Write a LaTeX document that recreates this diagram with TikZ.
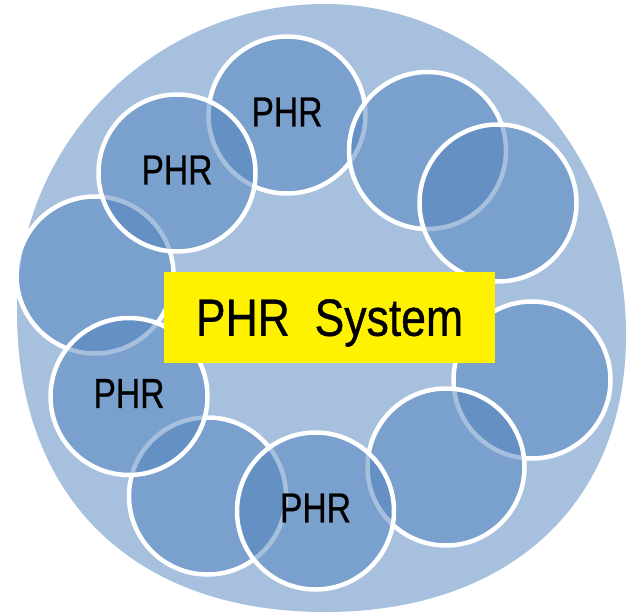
\documentclass[tikz,border=0pt]{standalone}
\usepackage{fontspec}
\newfontfamily\phrsmall[FakeStretch=0.8,FakeBold=0.7]{Liberation Sans}
\newfontfamily\phrbig[FakeStretch=0.85,FakeBold=0.7]{Liberation Sans}
\definecolor{phrblue}{HTML}{4F81BD}
\definecolor{ringbg}{HTML}{A7C0DE}
\begin{document}
\begin{tikzpicture}[x=1pt,y=-1pt,
  member/.style={circle, minimum size=157pt, inner sep=0pt,
    fill=phrblue, fill opacity=0.5, text opacity=1,
    draw=white, line width=4.5pt, text depth=6pt,
    font=\phrsmall\fontsize{42}{42}\selectfont},
  hub/.style={rectangle, fill=yellow, minimum width=331pt, minimum height=91pt,
    inner sep=0pt, text depth=0pt,
    font=\phrbig\fontsize{52.4}{52.4}\selectfont}]
\useasboundingbox (0,0) rectangle (626,613);
% background disc: four cubic quadrants, the lower two slightly fuller
\coordinate (dtop) at (325,4);
\coordinate (dright) at (626,335);
\coordinate (dbottom) at (325,612);
\coordinate (dleft) at (17,312);
\fill[ringbg] (dtop)
  .. controls (491,4) and (626,152) .. (dright)
  .. controls (626,505) and (508,612) .. (dbottom)
  .. controls (134,612) and (17,498) .. (dleft)
  .. controls (17,142) and (155,4) .. (dtop) -- cycle;
% ring of PHR circles
\node[member] (m1)  at (287,115)   {PHR};
\node[member] (m3)  at (427.5,150.5) {};
\node[member] (m4)  at (498,203)   {};
\node[member] (m6)  at (532,380)   {};
\node[member] (m8)  at (446,467)   {};
\node[member] (m9)  at (207.5,496) {};
\node[member] (m10) at (315.5,511) {PHR};
\node[member] (m5)  at (95,275)    {};
\node[member] (m7)  at (129,396.5) {PHR};
\node[member] (m2)  at (177,173)   {PHR};
% central label
\node[hub] (hub) at (329.5,317.5) {PHR~~System};
\end{tikzpicture}
\end{document}
